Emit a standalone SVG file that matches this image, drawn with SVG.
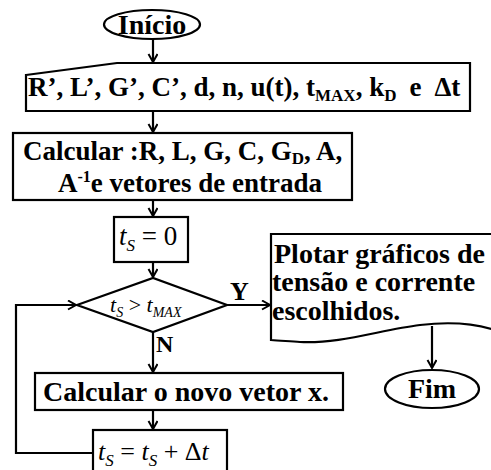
<svg xmlns="http://www.w3.org/2000/svg" width="491" height="470" viewBox="0 0 491 470">
<style>
.s{fill:#fff;stroke:#000;stroke-width:2.2}
.c{fill:none;stroke:#000;stroke-width:2.2}
.b{font-family:"Liberation Serif","Times New Roman",serif;font-weight:bold;fill:#000}
.m{font-family:"Liberation Serif","Times New Roman",serif;fill:#000}
.i{font-style:italic}
</style>
<defs>
<marker id="ah" markerWidth="12" markerHeight="12" refX="9" refY="5" orient="auto" markerUnits="userSpaceOnUse">
<path d="M1,0.5 L9,5 L1,9.5" fill="none" stroke="#000" stroke-width="2"/>
</marker>
</defs>
<g id="connectors">
<path class="c" d="M153,39 V62" marker-end="url(#ah)"/>
<path class="c" d="M153,111 V132" marker-end="url(#ah)"/>
<path class="c" d="M153,200 V216" marker-end="url(#ah)"/>
<path class="c" d="M153,262 V277" marker-end="url(#ah)"/>
<path class="c" d="M227,305 H270" marker-end="url(#ah)"/>
<path class="c" d="M153,332 V372" marker-end="url(#ah)"/>
<path class="c" d="M153,410 V429" marker-end="url(#ah)"/>
<path class="c" d="M93,453 H16 V305 H76" marker-end="url(#ah)"/>
<path class="c" d="M432,326 V368" marker-end="url(#ah)"/>
<text class="b" x="230" y="300" font-size="26">Y</text>
<text class="b" x="156" y="352" font-size="24">N</text>
</g>
<g id="inicio">
<ellipse class="s" cx="152" cy="24.5" rx="48" ry="14.5"/>
<text class="b" x="152" y="34" font-size="28" text-anchor="middle">Início</text>
</g>
<g id="entrada">
<path class="s" d="M26,75 L117,63 H470 V111 H26 Z"/>
<text class="b" x="28" y="96" font-size="27">R’, L’, G’, C’, d, n, u(t), t<tspan font-size="17" dy="5">MAX</tspan><tspan dy="-5">, k</tspan><tspan font-size="17" dy="5">D</tspan><tspan dy="-5" dx="13">e</tspan><tspan dx="13">Δt</tspan></text>
</g>
<g id="calcular">
<rect class="s" x="13" y="133" width="339" height="67"/>
<text class="b" x="23" y="160" font-size="27">Calcular :R, L, G, C, G<tspan font-size="17" dy="4">D</tspan><tspan dy="-4">, A,</tspan></text>
<text class="b" x="58" y="192" font-size="27">A<tspan font-size="16" dy="-10">-1</tspan><tspan dy="10">e vetores de entrada</tspan></text>
</g>
<g id="ts0">
<rect class="s" x="114" y="217" width="74" height="45"/>
<text class="m" x="119" y="245" font-size="27"><tspan class="i">t</tspan><tspan class="i" font-size="17" dy="6">S</tspan><tspan dy="-6"> = 0</tspan></text>
</g>
<g id="decisao">
<path class="s" d="M77,305 L153,278 L227,305 L153,332 Z"/>
<text class="m i" x="110" y="312" font-size="22">t<tspan font-size="14" dy="5">S</tspan><tspan dy="-5" font-style="normal"> &gt; </tspan>t<tspan font-size="14" dy="5">MAX</tspan></text>
</g>
<g id="plotar">
<path class="s" d="M271,234 H495 V330 C470,322 445,322 420,325 C380,330 340,344 300,342 C290,341 280,341 271,340 Z"/>
<text class="b" x="274" y="263" font-size="28">Plotar gráficos de</text>
<text class="b" x="272" y="291" font-size="28">tensão e corrente</text>
<text class="b" x="272" y="320" font-size="28">escolhidos.</text>
</g>
<g id="novo">
<rect class="s" x="35" y="373" width="308" height="37"/>
<text class="b" x="43" y="401" font-size="28">Calcular o novo vetor x.</text>
</g>
<g id="fim">
<ellipse class="s" cx="432" cy="389" rx="47" ry="19"/>
<text class="b" x="432" y="398" font-size="28" text-anchor="middle">Fim</text>
</g>
<g id="incremento">
<rect class="s" x="93" y="430" width="134" height="48"/>
<text class="m" x="98" y="460" font-size="26"><tspan class="i">t</tspan><tspan class="i" font-size="17" dy="6">S</tspan><tspan dy="-6"> = </tspan><tspan class="i">t</tspan><tspan class="i" font-size="17" dy="6">S</tspan><tspan dy="-6"> + Δ</tspan><tspan class="i">t</tspan></text>
</g>
</svg>
